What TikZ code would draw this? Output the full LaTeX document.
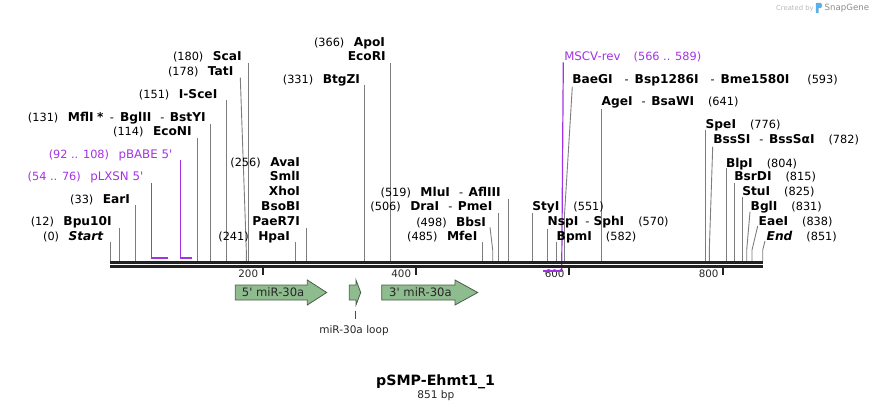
\documentclass[tikz,border=0pt]{standalone}
\usepackage{fontspec}
\setmainfont{DejaVu Sans}[Ligatures=TeXOff]
\definecolor{prim}{RGB}{163,50,230}
\definecolor{sitegrey}{RGB}{125,125,125}
\definecolor{featfill}{RGB}{143,188,143}
\definecolor{featdraw}{RGB}{70,95,70}
\definecolor{seqcol}{RGB}{34,34,34}
\definecolor{sgblue}{RGB}{90,175,235}
\newcommand\fnum{\fontsize{11.3}{13}\selectfont}
\newcommand\fprim{\fontsize{11.8}{14}\selectfont}
\newcommand\en[1]{{\fontsize{12.2}{14}\selectfont\bfseries #1}}
\newcommand\eni[1]{{\fontsize{12.2}{14}\selectfont\bfseries\itshape #1}}
\newcommand\gsep{\hspace{9pt}-\hspace{5.5pt}}
\newcommand\wsep{\hspace{12pt}-\hspace{6pt}}
\newcommand\lgap{\hspace{9.5pt}}
\newcommand\rgap{\hspace{14pt}}
\newcommand\sitev[3]{\coordinate (t#1) at (#2,#3); \coordinate (b#1) at (#2,261.2); \draw[site] (t#1) -- (b#1);}
\newcommand\sites[4]{\coordinate (t#1) at (#2,#3); \coordinate (m#1) at (#4,250); \coordinate (b#1) at (#4,261.2); \draw[site] (t#1) -- (m#1) -- (b#1);}
\tikzset{
  lab/.style={inner sep=0pt, outer sep=0pt, font=\fnum, text=black},
  llab/.style={lab, anchor=base east},
  rlab/.style={lab, anchor=base west},
  plab/.style={text=prim},
  site/.style={draw=sitegrey, line width=0.9pt},
  primline/.style={draw=prim, line width=1.2pt},
  primbar/.style={draw=prim, line width=2.1pt},
  tickmark/.style={draw=seqcol, line width=1.7pt},
  ticklab/.style={inner sep=0pt, anchor=base east, font=\fontsize{10.3}{12}\selectfont, text=black!85},
  feat/.style={fill=featfill, draw=featdraw, line width=0.8pt, line join=miter},
  featlab/.style={inner sep=0pt, anchor=base west, font=\fontsize{11.6}{13}\selectfont, text=black!85},
}
\begin{document}
\begin{tikzpicture}[x=1pt,y=-1pt]
\useasboundingbox (0,0) rectangle (874,411);

% ---- cut-site lines ----
\sitev{Start}{110.3}{242}
\sitev{Bpu}{119.3}{228.3}
\sitev{EarI}{135.3}{205.3}
\sitev{EcoNI}{197.7}{137.7}
\sitev{MflI}{210.3}{124}
\sitev{SceI}{226.3}{100}
\sites{TatI}{240.3}{77.7}{246.3}
\sitev{ScaI}{248.3}{63.3}
\sitev{HpaI}{295.3}{241.7}
\sitev{AvaI}{306}{228}
\sitev{BtgZI}{364}{85}
\sitev{ApoI}{390.3}{63.3}
\sitev{MfeI}{482.7}{242.3}
\sites{BbsI}{490}{227.3}{492.7}
\sitev{DraI}{498.3}{213.3}
\sitev{MluI}{508.3}{199}
\sitev{StyI}{532.3}{213.3}
\sitev{NspI}{547.7}{229}
\sitev{BpmI}{556.7}{241.7}
\coordinate (tBaeGI) at (572.3,86.7); \coordinate (mBaeGI) at (564.5,215); \coordinate (bBaeGI) at (564.5,261.2);
\draw[site] (tBaeGI) -- (mBaeGI) -- (bBaeGI);
\sitev{AgeI}{601.7}{109.3}
\sitev{SpeI}{705.7}{130}
\sites{BssSI}{712.7}{146.7}{709.3}
\sitev{BlpI}{726}{168.3}
\sitev{BsrDI}{734.3}{182.7}
\sitev{StuI}{742.3}{197.3}
\sites{BglI}{750}{211.7}{746.7}
\sites{EaeI}{757.7}{226}{752}
\sites{End}{765}{241}{762.7}

% ---- primers (forward) ----
\coordinate (tLX) at (151.3,183.3); \coordinate (bLX) at (151.3,257.7);
\coordinate (eLX) at (167.8,257.7);
\draw[primline] (tLX) -- (bLX);
\draw[primbar] (bLX) ++(-0.5,0) coordinate (bLXs) (bLXs) -- (eLX);
\coordinate (tBA) at (180.6,160); \coordinate (bBA) at (180.6,257.7);
\coordinate (eBA) at (192.2,257.7);
\draw[primline] (tBA) -- (bBA);
\draw[primbar] (bBA) ++(-0.6,0) coordinate (bBAs) (bBAs) -- (eBA);

% ---- MSCV-rev vertical (under the sequence) ----
\coordinate (tMS) at (563.3,62.3); \coordinate (bMS) at (561.7,270.7);
\coordinate (eMS) at (543.3,270.7);
\draw[primline] (tMS) -- (bMS);

% ---- sequence ----
\coordinate (sA) at (110,262.3); \coordinate (sB) at (763.3,262.3);
\coordinate (sC) at (110,266.3); \coordinate (sD) at (763.3,266.3);
\draw[draw=seqcol, line width=2.7pt] (sA) -- (sB);
\draw[draw=seqcol, line width=3pt] (sC) -- (sD);

% ---- ticks ----
\coordinate (k2a) at (262.7,267.5); \coordinate (k2b) at (262.7,275.3);
\coordinate (k4a) at (415.7,267.5); \coordinate (k4b) at (415.7,275.3);
\coordinate (k6a) at (569,267.5); \coordinate (k6b) at (569,275.3);
\coordinate (k8a) at (722.7,267.5); \coordinate (k8b) at (722.7,275.3);
\draw[tickmark] (k2a) -- (k2b); \draw[tickmark] (k4a) -- (k4b);
\draw[tickmark] (k6a) -- (k6b); \draw[tickmark] (k8a) -- (k8b);
\node[ticklab] (t200) at (258.3,277.3) {200};
\node[ticklab] (t400) at (411.3,277.3) {400};
\node[ticklab] (t600) at (564.6,277.3) {600};
\node[ticklab] (t800) at (718.6,277.3) {800};

% MSCV-rev bar (reverse, below)
\draw[primbar] (bMS) ++(0.5,0) coordinate (bMSs) (bMSs) -- (eMS);

% ---- left labels ----
\node[llab] (lStart) at (103.3,241) {(0)\lgap\eni{Start}};
\node[llab] (lBpu) at (111.7,226) {(12)\lgap\en{Bpu10I}};
\node[llab] (lEarI) at (130,204) {(33)\lgap\en{EarI}};
\node[llab,plab] (lLXSN) at (143.3,181) {(54 .. 76)\lgap{\fprim pLXSN 5'}};
\node[llab,plab] (lBABE) at (172.3,158.3) {(92 .. 108)\lgap{\fprim pBABE 5'}};
\node[llab] (lEcoNI) at (191.7,136) {(114)\lgap\en{EcoNI}};
\node[llab] (lMflI) at (205.7,121.6) {(131)\lgap\en{MflI}\hspace{3.5pt}\en{*}\hspace{6.5pt}-\hspace{6pt}\en{BglII}\gsep\en{BstYI}};
\node[llab] (lSceI) at (217.3,98.3) {(151)\lgap\en{I-SceI}};
\node[llab] (lTatI) at (233.3,76) {(178)\lgap\en{TatI}};
\node[llab] (lScaI) at (241.7,61) {(180)\lgap\en{ScaI}};
\node[llab] (lHpaI) at (290,241) {(241)\lgap\en{HpaI}};
\node[llab] (lAvaI) at (300,166.6) {(256)\lgap\en{AvaI}};
\node[llab] (lSmlI) at (300,181) {\en{SmlI}};
\node[llab] (lXhoI) at (300,196) {\en{XhoI}};
\node[llab] (lBsoBI) at (300,211) {\en{BsoBI}};
\node[llab] (lPaeR) at (300,226) {\en{PaeR7I}};
\node[llab] (lBtgZI) at (360,83.3) {(331)\lgap\en{BtgZI}};
\node[llab] (lApoI) at (385,46.6) {(366)\lgap\en{ApoI}};
\node[llab] (lEcoRI) at (385.7,61) {\en{EcoRI}};
\node[llab] (lMfeI) at (477.3,241) {(485)\lgap\en{MfeI}};
\node[llab] (lBbsI) at (486,226.3) {(498)\lgap\en{BbsI}};
\node[llab] (lDraI) at (492.3,211) {(506)\lgap\en{DraI}\gsep\en{PmeI}};
\node[llab] (lMluI) at (500.7,196.6) {(519)\lgap\en{MluI}\gsep\en{AflIII}};

% ---- right labels ----
\node[rlab] (rStyI) at (532.3,211) {\en{StyI}\rgap(551)};
\node[rlab] (rNspI) at (547.7,226) {\en{NspI}\hspace{7pt}-\hspace{4pt}\en{SphI}\rgap(570)};
\node[rlab] (rBpmI) at (556.7,241) {\en{BpmI}\rgap(582)};
\node[rlab,plab] (rMSCV) at (564.3,61) {{\fprim MSCV-rev}\hspace{13pt}(566 .. 589)};
\node[rlab] (rBaeGI) at (572.3,83.3) {\en{BaeGI}\wsep\en{Bsp1286I}\wsep\en{Bme1580I}\hspace{18pt}(593)};
\node[rlab] (rAgeI) at (601.7,106) {\en{AgeI}\gsep\en{BsaWI}\rgap(641)};
\node[rlab] (rSpeI) at (705.7,128.6) {\en{SpeI}\rgap(776)};
\node[rlab] (rBssSI) at (713.3,143.3) {\en{BssSI}\gsep\en{BssSαI}\rgap(782)};
\node[rlab] (rBlpI) at (726,167.6) {\en{BlpI}\rgap(804)};
\node[rlab] (rBsrDI) at (734.3,181) {\en{BsrDI}\rgap(815)};
\node[rlab] (rStuI) at (742.3,196) {\en{StuI}\rgap(825)};
\node[rlab] (rBglI) at (750.7,211) {\en{BglI}\rgap(831)};
\node[rlab] (rEaeI) at (758.7,226) {\en{EaeI}\rgap(838)};
\node[rlab] (rEnd) at (766.7,241) {\eni{End}\rgap(851)};

% ---- features ----
\draw[feat] (235.3,285) -- (307.3,285) -- (307.3,280) -- (326.7,292.5) -- (307.3,305) -- (307.3,300) -- (235.3,300) -- cycle;
\draw[feat] (349.3,285) -- (356,285) -- (356,280) -- (360.7,292.5) -- (356,305) -- (356,300) -- (349.3,300) -- cycle;
\draw[feat] (381.7,285) -- (455,285) -- (455,280) -- (477.7,292.5) -- (455,305) -- (455,300) -- (381.7,300) -- cycle;
\node[featlab] (f5) at (241.7,296.5) {5' miR-30a};
\node[featlab] (f3) at (389,296.5) {3' miR-30a};
\coordinate (loopA) at (355.2,310.7); \coordinate (loopB) at (355.2,318.5);
\draw[draw=black!70, line width=0.8pt] (loopA) -- (loopB);
\node[inner sep=0pt, anchor=base, font=\fontsize{10.5}{12}\selectfont, text=black!85] (floop) at (354,333.8) {miR-30a loop};

% ---- title ----
\node[inner sep=0pt, anchor=base, font=\fontsize{14.2}{16}\selectfont\bfseries] (title) at (435.6,385.8) {pSMP-Ehmt1\_1};
\node[inner sep=0pt, anchor=base, font=\fontsize{10.6}{12}\selectfont, text=black!85] (bp) at (435.8,398.2) {851 bp};

% ---- credit ----
\node[inner sep=0pt, anchor=base west, font=\fontsize{6.8}{8}\selectfont, text=black!28] (cby) at (776,10.6) {Created by};
\fill[sgblue, rounded corners=0.8pt] (815.8,2.8) rectangle (818.6,13.2);
\fill[sgblue] (818.2,2.8) -- (820.2,2.8) .. controls (822.6,2.8) and (822.6,8.2) .. (820.2,8.2) -- (818.2,8.2) -- cycle;
\node[inner sep=0pt, anchor=base west, font=\fontsize{8.6}{10}\selectfont, text=black!45] (csg) at (824.5,11) {SnapGene};
\end{tikzpicture}
\end{document}
